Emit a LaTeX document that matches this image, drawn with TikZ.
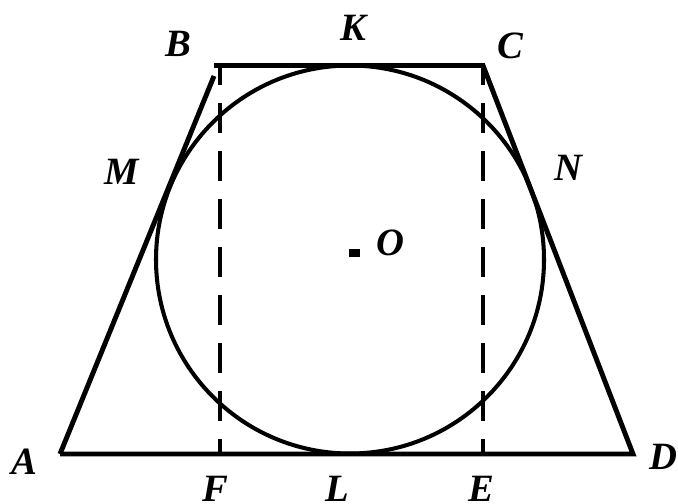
\documentclass[tikz,border=0pt]{standalone}
\usepackage{fontspec}
\setmainfont{Liberation Serif}
\begin{document}
\begin{tikzpicture}[x=0.02cm, y=-0.02cm, line join=miter, line cap=butt,
		lbl/.style={font=\fontsize{22}{24}\selectfont\bfseries\itshape, inner sep=0pt},
		side/.style={line width=2.8pt},
		hgt/.style={line width=2.3pt, dash pattern=on 0.6cm off 0.36cm, dash phase=0.2cm}]
	\useasboundingbox (0,0) rectangle (678,503);
	\coordinate (A) at (60,454);
	\coordinate (B) at (220,65.5);
	\coordinate (Bs) at (214,76);
	\coordinate (C) at (483,65.5);
	\coordinate (D) at (633,454);
	\coordinate (F) at (220,454);
	\coordinate (E) at (483,454);
	\coordinate (O) at (350,259.5);
	\draw[side] (A)--(Bs);
	\draw[side] (Bs|-B)--(B)--(C)--(D)--(A);
	\draw[hgt] (B)--(F);
	\draw[hgt] (C)--(E);
	\draw[line width=2.3pt] (O) circle [radius=194];
	\fill (349,249) rectangle (360,256.5);
	\node[lbl] (lA) at (24,462) {A};
	\node[lbl] (lB) at (178,44) {B};
	\node[lbl] (lC) at (510,46) {C};
	\node[lbl] (lD) at (663,457) {D};
	\node[lbl] (lK) at (353,28) {K};
	\node[lbl] (lM) at (122,172) {M};
	\node[lbl] (lN) at (568,168) {N};
	\node[lbl] (lO) at (390,243) {O};
	\node[lbl] (lF) at (215,489) {F};
	\node[lbl] (lL) at (337,489) {L};
	\node[lbl] (lE) at (481,489) {E};
\end{tikzpicture}
\end{document}
